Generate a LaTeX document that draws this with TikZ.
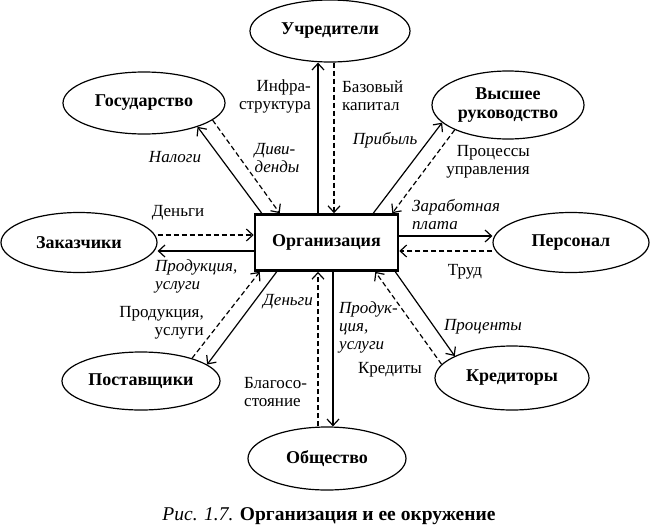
\documentclass[tikz,border=0pt]{standalone}
\usepackage{fontspec}
\setmainfont{Liberation Serif}
\usetikzlibrary{arrows.meta,shapes.geometric}
\begin{document}
\begin{tikzpicture}[x=1pt,y=-1pt,
  ell/.style={ellipse,draw,line width=1.2pt,inner sep=0pt,align=center,font=\fontsize{18}{18}\selectfont\bfseries},
  lbl/.style={inner sep=0pt,font=\fontsize{17}{18}\selectfont},
  ilbl/.style={inner sep=0pt,font=\fontsize{17}{18}\selectfont\itshape},
  sol/.style={line width=1.2pt,-{Straight Barb[length=6.5pt,width=12pt]}},
  das/.style={sol,dash pattern=on 5pt off 3pt},
]
\useasboundingbox (0,0) rectangle (650,530);
% central box
\node[draw,line width=2.6pt,minimum width=143pt,minimum height=56pt,inner sep=0pt,font=\fontsize{18}{18}\selectfont\bfseries] (org) at (326.5,242.5) {Организация};
% ellipses
\node[ell,minimum width=160pt,minimum height=62pt] (uch) at (330,31) {Учредители};
\node[ell,minimum width=152pt,minimum height=68pt] (vys) at (508,105) {Высшее\\[1pt]руководство};
\node[ell,minimum width=162pt,minimum height=62pt] (gos) at (144,103) {Государство};
\node[ell,minimum width=156pt,minimum height=60pt] (zak) at (79,242.5) {Заказчики};
\node[ell,minimum width=156pt,minimum height=60pt] (per) at (571,242.5) {Персонал};
\node[ell,minimum width=158pt,minimum height=58pt] (post) at (141,381) {Поставщики};
\node[ell,minimum width=154pt,minimum height=64pt] (kred) at (512,378) {Кредиторы};
\node[ell,minimum width=158pt,minimum height=63pt] (obs) at (327,458.5) {Общество};
% connectors
\draw[sol] ([xshift=-8.5pt]org.north) -- ([xshift=-8.5pt]org.north |- uch.south);
\draw[das] ([xshift=7.5pt]org.north |- uch.south) -- ([xshift=7.5pt]org.north);
\draw[sol] ([xshift=8pt]org.north west) -- (gos.-24);
\draw[das] (gos.-14) -- ([xshift=26pt]org.north west);
\draw[sol] ([xshift=-26pt]org.north east) -- (vys.-165);
\draw[das] (vys.-155) -- ([xshift=-7pt]org.north east);
\draw[das] ([yshift=7.5pt]zak.east) -- ([yshift=7.5pt]org.west);
\draw[sol] ([yshift=-8.5pt]org.west) -- ([yshift=-8.5pt]zak.east);
\draw[sol] ([yshift=6.5pt]org.east) -- ([yshift=6.5pt]per.west);
\draw[das] ([yshift=-8.5pt]per.west) -- ([yshift=-8.5pt]org.east);
\draw[das] (post.24) -- ([xshift=6pt]org.south west);
\draw[sol] ([xshift=23pt]org.south west) -- (post.14);
\draw[das] ([xshift=-8.5pt]org.south |- obs.north) -- ([xshift=-8.5pt]org.south);
\draw[sol] ([xshift=6.5pt]org.south) -- ([xshift=6.5pt]org.south |- obs.north);
\draw[sol] ([xshift=-4pt]org.south east) -- (kred.159);
\draw[das] (kred.169) -- ([xshift=-24pt]org.south east);
% labels
\node[lbl,align=right,anchor=east] (l1) at (311,96) {Инфра-\\структура};
\node[lbl,align=left,anchor=west] (l2) at (342,96) {Базовый\\капитал};
\node[ilbl] (l3) at (175,157) {Налоги};
\node[ilbl,align=left] (l4) at (277,158) {Диви-\\денды};
\node[ilbl] (l5) at (385,140) {Прибыль};
\node[lbl,align=right,anchor=east] (l6) at (530,162) {Процессы\\управления};
\node[ilbl,align=left,anchor=west] (l7) at (412,214) {Заработная\\плата};
\node[lbl] (l8) at (465,272) {Труд};
\node[lbl] (l9) at (178,213) {Деньги};
\node[ilbl,align=left,anchor=west] (l10) at (155,276) {Продукция,\\услуги};
\node[lbl,align=right,anchor=east] (l11) at (204,323) {Продукция,\\услуги};
\node[ilbl] (l12) at (288,302) {Деньги};
\node[lbl,align=left,anchor=west] (l13) at (244,392) {Благосо-\\стояние};
\node[ilbl,align=left,anchor=west] (l14) at (339,327) {Продук-\\ция,\\услуги};
\node[ilbl] (l15) at (483,327) {Проценты};
\node[lbl] (l16) at (390,370) {Кредиты};
% caption
\node[inner sep=0pt,font=\fontsize{19.5}{20}\selectfont] (cap) at (329,516) {\textit{Рис. 1.7.} \textbf{Организация и ее окружение}};
\end{tikzpicture}
\end{document}
